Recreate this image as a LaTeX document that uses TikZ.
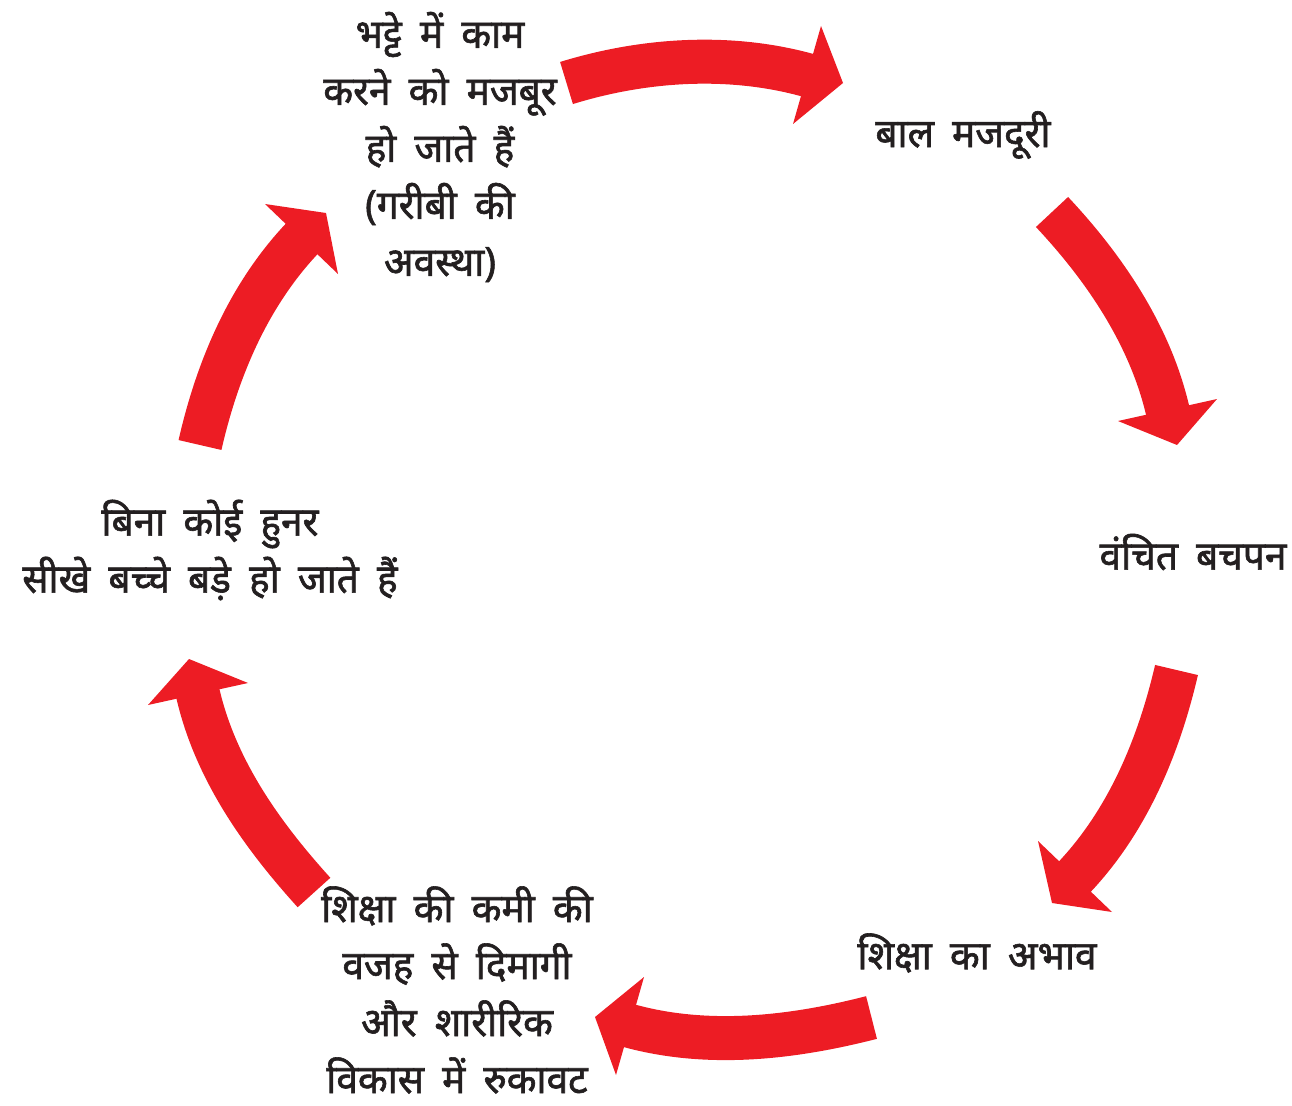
\documentclass[tikz,border=0pt]{standalone}
\usepackage{fontspec}
\newfontfamily\dev[Script=Devanagari,WordSpace=1.8,FakeBold=1.5,FakeStretch=0.97]{Noto Sans}
\definecolor{arrowred}{HTML}{ED1C24}
\definecolor{txt}{HTML}{231F20}
\begin{document}
\begin{tikzpicture}[x=1pt,y=-1pt,
  lbl/.style={align=center, font=\dev\fontsize{40}{57}\selectfont, text=txt, inner sep=0pt},
  shaft/.style={draw=arrowred, line width=44pt, line cap=butt},
  head/.style={fill=arrowred, draw=none}]
\useasboundingbox (0,0) rectangle (1292,1105);
% text nodes
\node[lbl] (n1) at (963,135) {बाल मजदूरी};
\node[lbl] (n2) at (1193,552) {वंचित बचपन};
\node[lbl] (n3) at (977,953) {शिक्षा का अभाव};
\node[lbl] (n4) at (457,990) {शिक्षा की कमी की\\वजह से दिमागी\\और शारीरिक\\विकास में रुकावट};
\node[lbl] (n5) at (210,550) {बिना कोई हुनर\\सीखे बच्चे बड़े हो जाते हैं};
\node[lbl] (n6) at (440,147) {भट्टे में काम\\करने को मजबूर\\हो जाते हैं\\(गरीबी की\\अवस्था)};
% arrows
\coordinate (a1t) at (566.5,83);  \coordinate (a1b) at (810.8,76.1);
\coordinate (a2t) at (1052,212);  \coordinate (a2b) at (1168.4,413.9);
\coordinate (a3t) at (1176.5,670);\coordinate (a3b) at (1072.2,879.4);
\coordinate (a4t) at (871.5,1017.5); \coordinate (a4b) at (626.2,1024.9);
\coordinate (a5t) at (314,892.5); \coordinate (a5b) at (197.1,690.1);
\coordinate (a6t) at (200,445);   \coordinate (a6b) at (304.3,236.1);
\draw[shaft] (a1t) .. controls (642.9,59.4) and (730.1,53) .. (a1b);
\fill[head] (821,26) -- (843,83) -- (793,124) -- cycle;
\draw[shaft] (a2t) .. controls (1104,267.4) and (1151,335.8) .. (a2b);
\fill[head] (1118,421) -- (1177,445) -- (1217,399) -- cycle;
\draw[shaft] (a3t) .. controls (1159,745) and (1128.3,821) .. (a3b);
\fill[head] (1038,841) -- (1052,903) -- (1112,912) -- cycle;
\draw[shaft] (a4t) .. controls (793.5,1037.5) and (707.4,1048.1) .. (a4b);
\fill[head] (644,977) -- (595,1017) -- (616,1075) -- cycle;
\draw[shaft] (a5t) .. controls (262.3,835.4) and (214.5,769.2) .. (a5b);
\fill[head] (148,705) -- (189,659) -- (248,683) -- cycle;
\draw[shaft] (a6t) .. controls (217.1,369.9) and (248.2,294.6) .. (a6b);
\fill[head] (265,204) -- (326,213) -- (338,274) -- cycle;
\end{tikzpicture}
\end{document}
